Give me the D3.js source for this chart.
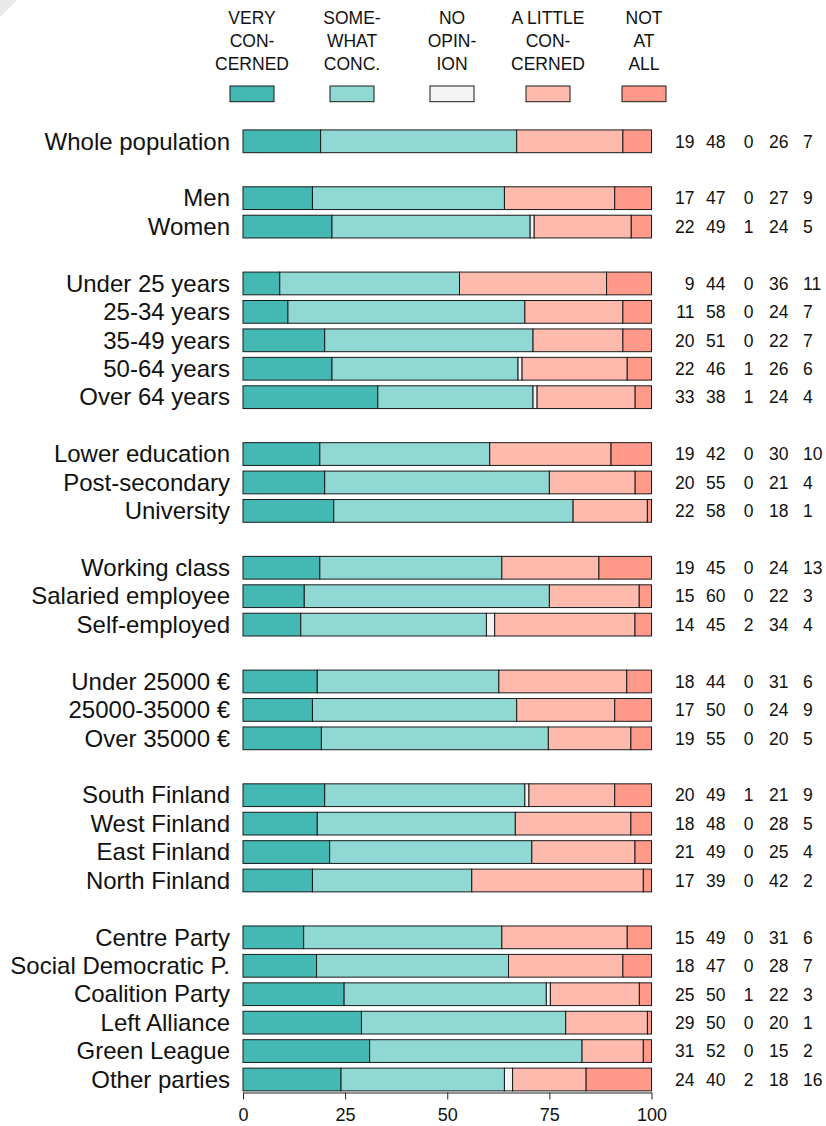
<!DOCTYPE html>
<html>
<head>
<meta charset="utf-8">
<script src="https://cdn.jsdelivr.net/npm/d3@7"></script>
<style>
  html, body { margin: 0; padding: 0; background: #fff; }
  svg { display: block; font-family: "Liberation Sans", Arial, sans-serif; }
</style>
</head>
<body>
<svg id="chart" width="826" height="1126"></svg>
<script>
// Respondent groups, listed in drawing order; groupSizes splits them into blocks
const categories = [
  "Whole population",
  "Men", "Women",
  "Under 25 years", "25-34 years", "35-49 years", "50-64 years", "Over 64 years",
  "Lower education", "Post-secondary", "University",
  "Working class", "Salaried employee", "Self-employed",
  "Under 25000 €", "25000-35000 €", "Over 35000 €",
  "South Finland", "West Finland", "East Finland", "North Finland",
  "Centre Party", "Social Democratic P.", "Coalition Party", "Left Alliance", "Green League", "Other parties"
];
const groupSizes = [1, 2, 5, 3, 3, 3, 4, 6];

// Share of answers (%) per response option
const veryConcerned     = [19, 17, 22,  9, 11, 20, 22, 33, 19, 20, 22, 19, 15, 14, 18, 17, 19, 20, 18, 21, 17, 15, 18, 25, 29, 31, 24];
const somewhatConcerned = [48, 47, 49, 44, 58, 51, 46, 38, 42, 55, 58, 45, 60, 45, 44, 50, 55, 49, 48, 49, 39, 49, 47, 50, 50, 52, 40];
const noOpinion         = [ 0,  0,  1,  0,  0,  0,  1,  1,  0,  0,  0,  0,  0,  2,  0,  0,  0,  1,  0,  0,  0,  0,  0,  1,  0,  0,  2];
const littleConcerned   = [26, 27, 24, 36, 24, 22, 26, 24, 30, 21, 18, 24, 22, 34, 31, 24, 20, 21, 28, 25, 42, 31, 28, 22, 20, 15, 18];
const notAtAll          = [ 7,  9,  5, 11,  7,  7,  6,  4, 10,  4,  1, 13,  3,  4,  6,  9,  5,  9,  5,  4,  2,  6,  7,  3,  1,  2, 16];

const seriesNames = ["VERY CON- CERNED", "SOME- WHAT CONC.", "NO OPIN- ION", "A LITTLE CON- CERNED", "NOT AT ALL"];
const legendLines = [["VERY", "CON-", "CERNED"], ["SOME-", "WHAT", "CONC."], ["NO", "OPIN-", "ION"], ["A LITTLE", "CON-", "CERNED"], ["NOT", "AT", "ALL"]];
const axisTicks = [0, 25, 50, 75, 100];

const colors = ["#44b9b4", "#8fd8d3", "#f4f4f4", "#ffbaae", "#ff998a"];
const series = [veryConcerned, somewhatConcerned, noOpinion, littleConcerned, notAtAll];

const svg = d3.select("#chart");

// faint folded corner in the top-left
svg.append("path").attr("d", "M0,0L17,0L0,17Z").attr("fill", "#e9e9e9");

// slot index for each row: one empty slot between blocks
const slotOf = [];
let slot = 0;
groupSizes.forEach((n, g) => {
  for (let k = 0; k < n; k++) slotOf.push(slot++);
  slot++;
});
const nSlots = slot - 1;

const x = d3.scaleLinear().domain([0, 100]).range([243, 651.5]);
const y = d3.scalePoint().domain(d3.range(nSlots)).range([141.3, 1079.5]);
const barH = y.step() * 0.8;

// rows with stacked segments (normalised so each bar spans 0-100)
const rows = categories.map((name, i) => {
  const vals = series.map(s => s[i]);
  const total = d3.sum(vals);
  let cum = 0;
  const segs = vals.map((v, j) => {
    const s = { j, v, x0: cum / total * 100, x1: (cum + v) / total * 100 };
    cum += v;
    return s;
  });
  return { name, i, vals, segs, cy: y(slotOf[i]) };
});

const rowG = svg.append("g").selectAll("g").data(rows).join("g");

rowG.selectAll("rect").data(d => d.segs.filter(s => s.v > 0).map(s => ({ ...s, cy: d.cy })))
  .join("rect")
  .attr("x", s => x(s.x0))
  .attr("width", s => x(s.x1) - x(s.x0))
  .attr("y", s => s.cy - barH / 2)
  .attr("height", barH)
  .attr("fill", s => colors[s.j])
  .attr("stroke", "#1a1a1a")
  .attr("stroke-width", 1);

// category labels
rowG.append("text")
  .attr("x", 230)
  .attr("y", d => d.cy + 8.2)
  .attr("text-anchor", "end")
  .attr("font-size", 24)
  .attr("fill", "#111")
  .text(d => d.name);

// value columns
const colX = [694.5, 725.5, 753.5, 788.5, 803];
const colAnchor = ["end", "end", "end", "end", "start"];
rowG.each(function(d) {
  const g = d3.select(this);
  d.vals.forEach((v, j) => {
    g.append("text")
      .attr("x", colX[j])
      .attr("y", d.cy + 6.3)
      .attr("text-anchor", colAnchor[j])
      .attr("font-size", 17.5)
      .attr("fill", "#111")
      .text(v);
  });
});

// legend
const legendX = [252, 352, 452, 548, 644];
const leg = svg.append("g").selectAll("g").data(seriesNames).join("g");
leg.append("rect")
  .attr("x", (d, j) => legendX[j] - 22)
  .attr("y", 86)
  .attr("width", 44)
  .attr("height", 15.7)
  .attr("fill", (d, j) => colors[j])
  .attr("stroke", "#1a1a1a")
  .attr("stroke-width", 1);
leg.each(function(d, j) {
  d3.select(this).selectAll("text").data(legendLines[j]).join("text")
    .attr("x", legendX[j])
    .attr("y", (t, k) => 23.5 + k * 23)
    .attr("text-anchor", "middle")
    .attr("font-size", 17.5)
    .attr("fill", "#111")
    .text(t => t);
});

// x axis
const axisG = svg.append("g")
  .attr("transform", "translate(0,1092.5)")
  .call(d3.axisBottom(x).tickValues(axisTicks).tickSize(7).tickSizeOuter(0).tickPadding(9));
axisG.select(".domain").attr("stroke", "#222");
axisG.selectAll(".tick line").attr("stroke", "#222");
axisG.selectAll(".tick text")
  .attr("font-size", 18)
  .attr("font-family", "Liberation Sans, Arial, sans-serif")
  .attr("fill", "#111");
</script>
</body>
</html>
